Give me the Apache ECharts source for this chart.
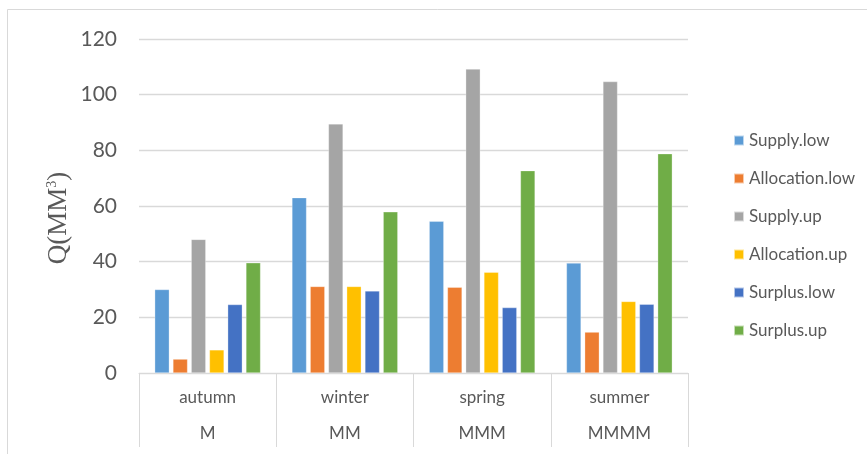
<!DOCTYPE html>
<html>
<head>
<meta charset="utf-8">
<script src="https://cdn.jsdelivr.net/npm/echarts@6/dist/echarts.min.js"></script>
<style>html,body{margin:0;padding:0;background:#fff;}#c{width:867px;height:454px;}</style>
</head>
<body>
<div id="c"></div>
<script>
const seasons = ['autumn', 'winter', 'spring', 'summer'];
const groups = ['M', 'MM', 'MMM', 'MMMM'];
const yTicks = [0, 20, 40, 60, 80, 100, 120];
const seriesNames = ['Supply.low', 'Allocation.low', 'Supply.up', 'Allocation.up', 'Surplus.low', 'Surplus.up'];
const supplyLow = [30, 63, 54.5, 39.5];
const allocationLow = [5, 31.1, 30.8, 14.7];
const supplyUp = [48, 89.5, 109.2, 104.7];
const allocationUp = [8.3, 31.1, 36.2, 25.7];
const surplusLow = [24.6, 29.5, 23.5, 24.7];
const surplusUp = [39.6, 57.9, 72.7, 78.8];
const colors = ['#5B9BD5', '#ED7D31', '#A5A5A5', '#FFC000', '#4472C4', '#70AD47'];

const allData = [supplyLow, allocationLow, supplyUp, allocationUp, surplusLow, surplusUp];
const txt = '#595959';
const font = 'Lato, "Open Sans", sans-serif';
const serif = '"Liberation Serif", "DejaVu Serif", serif';

const chart = echarts.init(document.getElementById('c'), null, {renderer: 'canvas'});
chart.setOption({
  animation: false,
  backgroundColor: '#fff',
  color: colors,
  graphic: [{
    type: 'rect', silent: true, z: -1,
    shape: {x: 7.5, y: 9.5, width: 900, height: 500},
    style: {fill: 'none', stroke: '#d9d9d9', lineWidth: 1}
  }, {
    type: 'text', silent: true,
    x: 59, y: 218, rotation: Math.PI / 2,
    style: {
      text: '{a|Q(MM}{s|3}{a|)}',
      align: 'center', verticalAlign: 'middle',
      rich: {
        a: {fontFamily: serif, fontSize: 27, fill: txt},
        s: {fontFamily: serif, fontSize: 14, fill: txt, verticalAlign: 'top', padding: [0, 0, 10, 0]}
      }
    }
  }],
  legend: {
    orient: 'vertical',
    left: 728, top: 127,
    itemWidth: 10, itemHeight: 10, itemGap: 21,
    icon: 'rect',
    data: seriesNames,
    textStyle: {color: txt, fontSize: 17, fontFamily: font}
  },
  grid: {left: 139, right: 179, top: 39, bottom: 81},
  xAxis: [{
    type: 'category',
    data: seasons,
    position: 'bottom',
    axisLine: {show: true, lineStyle: {color: '#d9d9d9', width: 1}},
    axisTick: {show: true, interval: 0, length: 74, alignWithLabel: false, lineStyle: {color: '#d9d9d9', width: 1}},
    axisLabel: {color: txt, fontSize: 17, fontFamily: font, margin: 16, interval: 0}
  }, {
    type: 'category',
    data: groups,
    position: 'bottom',
    axisLine: {show: false},
    axisTick: {show: false},
    axisLabel: {color: txt, fontSize: 17, fontFamily: font, margin: 52, interval: 0}
  }],
  yAxis: {
    type: 'value',
    min: yTicks[0], max: yTicks[yTicks.length - 1], interval: 20,
    axisLine: {show: false},
    axisTick: {show: false},
    splitLine: {lineStyle: {color: '#d9d9d9', width: 1.3}},
    axisLabel: {color: txt, fontSize: 21, fontFamily: font, margin: 22}
  },
  series: seriesNames.map((n, i) => ({
    name: n,
    type: 'bar',
    xAxisIndex: 0,
    data: allData[i],
    barWidth: 14.6,
    barGap: '25%',
    itemStyle: {color: colors[i], borderColor: 'rgba(255,255,255,0.6)', borderWidth: 0.5}
  }))
});
</script>
</body>
</html>
